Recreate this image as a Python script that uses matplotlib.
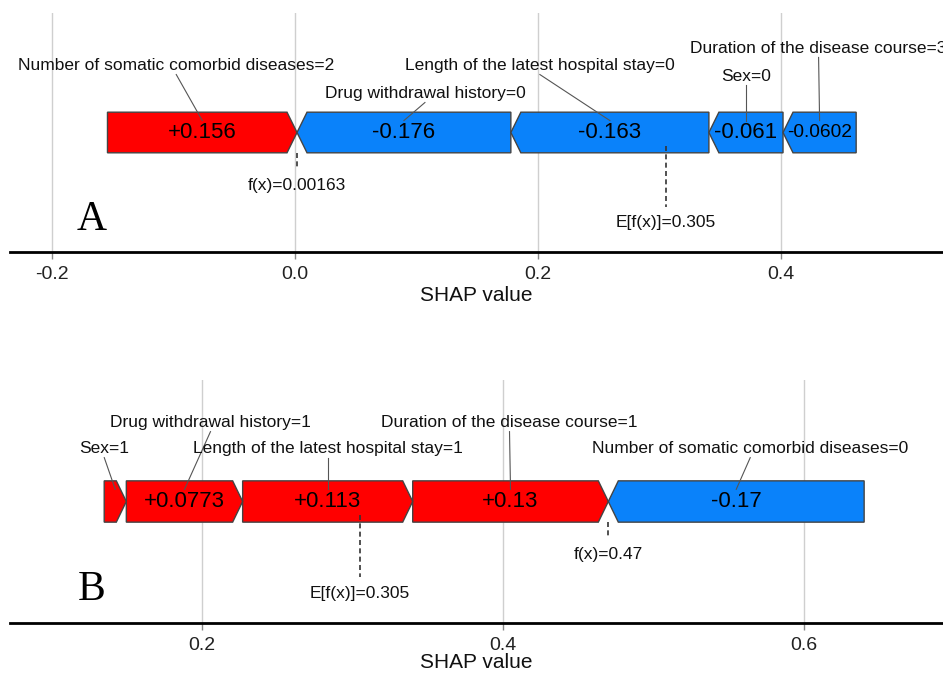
import numpy as np
import matplotlib.pyplot as plt
from matplotlib.patches import Polygon
from matplotlib.ticker import MultipleLocator

plt.rcParams['font.family'] = ['Liberation Sans', 'DejaVu Sans']
plt.rcParams['axes.unicode_minus'] = False

# --- panel A: sample with low predicted value ---
a_features = ["Number of somatic comorbid diseases=2",
              "Drug withdrawal history=0",
              "Length of the latest hospital stay=0",
              "Sex=0",
              "Duration of the disease course=3"]
a_shap = [0.156, -0.176, -0.163, -0.061, -0.0602]
a_fx = 0.00163
a_base = 0.305

# --- panel B: sample with high predicted value ---
b_features = ["Sex=1",
              "Drug withdrawal history=1",
              "Length of the latest hospital stay=1",
              "Duration of the disease course=1",
              "Number of somatic comorbid diseases=0"]
b_shap = [0.0147, 0.0773, 0.113, 0.13, -0.17]
b_fx = 0.47
b_base = 0.305

# label placement (height above bar, horizontal shift in pixels)
a_label_y = [0.56, 0.326, 0.56, 0.469, 0.703]
a_label_dx = [-26, 21, -70, 0, -1]
b_label_y = [0.436, 0.650, 0.436, 0.650, 0.436]
b_label_dx = [-11, 26, 0, -1, 14]

RED = '#ff0000'
BLUE = '#0a82fa'
H = 0.17      # half bar height
TIP_PX = 10   # arrow tip width in pixels


def force_panel(ax, features, shap, fx, base, label_y, label_dx, xlim,
                letter, labelpad):
    ax.set_xlim(*xlim)
    ax.set_ylim(-1, 1)
    fig = ax.figure
    ax_px = ax.get_position().width * fig.get_figwidth() * fig.dpi
    per_px = (xlim[1] - xlim[0]) / ax_px
    tip = TIP_PX * per_px

    shap = np.array(shap)
    pos = [i for i in np.argsort(-shap) if shap[i] > 0]
    neg = [i for i in np.argsort(shap) if shap[i] < 0]

    spans = {}
    x = fx
    for i in pos:
        spans[i] = (x - shap[i], x)
        x -= shap[i]
    x = fx
    for i in neg:
        spans[i] = (x, x - shap[i])
        x -= shap[i]

    renderer = fig.canvas.get_renderer()
    for i, (l, r) in spans.items():
        if shap[i] > 0:
            pts = [(l, -H), (r - tip, -H), (r, 0), (r - tip, H), (l, H)]
            col = RED
        else:
            pts = [(l, 0), (l + tip, H), (r, H), (r, -H), (l + tip, -H)]
            col = BLUE
        ax.add_patch(Polygon(pts, closed=True, facecolor=col,
                             edgecolor='#444444', lw=1.0, zorder=3))
        mid = (l + r) / 2
        w_px = (r - l) / per_px
        if w_px > 30:
            t = ax.text(mid, 0, '%+.3g' % shap[i], ha='center', va='center',
                        fontsize=16, color='black', zorder=5)
            tw = t.get_window_extent(renderer).width
            if tw > w_px - 8:
                t.set_fontsize(16 * (w_px - 8) / tw)

        # feature label with leader line
        lx = mid + label_dx[i] * per_px
        ax.text(lx, label_y[i], features[i], ha='center', va='center',
                fontsize=12.5, color='#111111', zorder=5)
        ax.plot([lx, mid], [label_y[i] - 0.075, 0.1], color='#555555',
                lw=0.8, zorder=4)

    # output value and base value markers
    ax.plot([fx, fx], [-H, -0.30], color='#333333', lw=1.2,
            ls=(0, (3, 2)), zorder=4)
    ax.text(fx, -0.44, 'f(x)=%g' % fx, ha='center', va='center',
            fontsize=12.5, color='#111111')
    ax.plot([base, base], [-0.11, -0.62], color='#333333', lw=1.2,
            ls=(0, (3, 2)), zorder=4)
    ax.text(base, -0.755, 'E[f(x)]=%g' % base, ha='center', va='center',
            fontsize=12.5, color='#111111')

    ax.text(0.088, 0.135, letter, transform=ax.transAxes, ha='center',
            va='center', fontsize=30, family='Liberation Serif')

    ax.xaxis.set_major_locator(MultipleLocator(0.2))
    ax.grid(axis='x', color='#cfcfcf', lw=1.0)
    ax.set_axisbelow(True)
    ax.set_yticks([])
    for s in ['top', 'left', 'right']:
        ax.spines[s].set_visible(False)
    ax.spines['bottom'].set_linewidth(2)
    ax.spines['bottom'].set_color('black')
    ax.tick_params(axis='x', length=5, width=1, color='#888888',
                   labelsize=14, pad=5, labelcolor='#222222')
    ax.set_xlabel('SHAP value', fontsize=15, labelpad=labelpad,
                  color='#111111')


fig = plt.figure(figsize=(9.43, 6.73), dpi=100)
ax1 = fig.add_axes([10 / 943, 1 - 252 / 673, 933 / 943, 239 / 673])
ax2 = fig.add_axes([10 / 943, 1 - 623 / 673, 933 / 943, 243 / 673])

force_panel(ax1, a_features, a_shap, a_fx, a_base, a_label_y, a_label_dx,
            (-0.2346, 0.5333), 'A', 2)
force_panel(ax2, b_features, b_shap, b_fx, b_base, b_label_y, b_label_dx,
            (0.0724, 0.6924), 'B', -1)

fig.savefig('out.png', dpi=100)
